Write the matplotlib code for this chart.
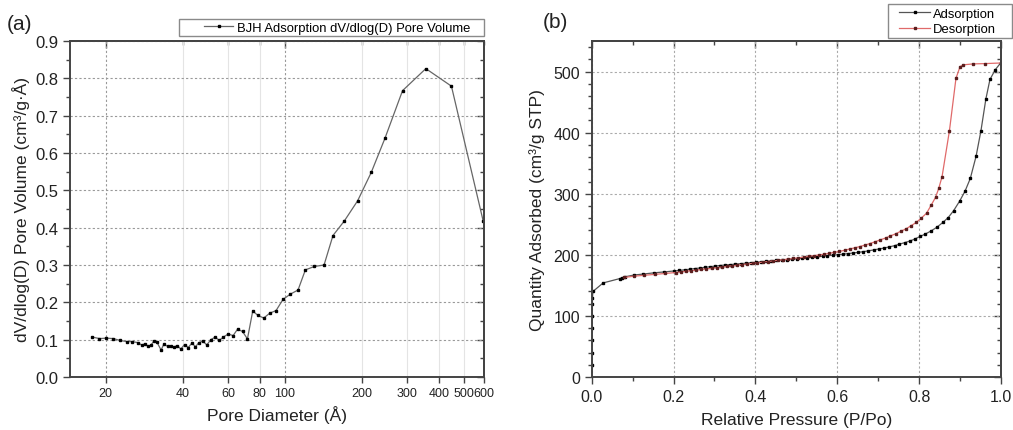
import matplotlib
matplotlib.use("Agg")
import matplotlib.pyplot as plt
from matplotlib.patches import Rectangle
from matplotlib.ticker import (FixedLocator, FixedFormatter, MultipleLocator,
                               NullFormatter, FormatStrFormatter)

plt.rcParams['font.family'] = ['Liberation Sans', 'DejaVu Sans']

# (a) BJH adsorption pore size distribution
pore_diameter = [17.7, 18.9, 20.1, 21.4, 22.7, 24.1, 25.3, 26.7, 27.7, 28.4,
                 29.3, 30.0, 30.8, 31.7, 32.9, 33.7, 34.9, 35.9, 36.9, 38.0,
                 39.3, 40.6, 42.0, 43.4, 44.8, 46.2, 47.9, 49.6, 51.5, 53.5,
                 55.5, 57.6, 60.1, 62.9, 65.4, 68.4, 71.5, 75.0, 78.5, 82.8,
                 87.4, 92.5, 98.5, 105.2, 112.7, 120.4, 130.5, 142.4, 154.3, 170.9,
                 192.6, 217.7, 246.1, 288.4, 355.6, 447.7, 595.0]
pore_volume = [0.107, 0.103, 0.104, 0.103, 0.098, 0.095, 0.095, 0.092, 0.085, 0.089,
               0.082, 0.085, 0.096, 0.093, 0.072, 0.088, 0.082, 0.082, 0.080, 0.084,
               0.075, 0.087, 0.079, 0.091, 0.081, 0.092, 0.096, 0.086, 0.100, 0.107,
               0.098, 0.107, 0.115, 0.111, 0.128, 0.122, 0.102, 0.177, 0.165, 0.158,
               0.171, 0.178, 0.208, 0.222, 0.233, 0.287, 0.296, 0.300, 0.379, 0.418,
               0.472, 0.548, 0.639, 0.767, 0.826, 0.779, 0.419]

# (b) N2 isotherm
ads_p = [0.0003, 0.0005, 0.0007, 0.0009, 0.0011, 0.0014, 0.0018, 0.003, 0.028, 0.068,
         0.073, 0.081, 0.104, 0.126, 0.152, 0.177, 0.200, 0.214, 0.228, 0.240,
         0.252, 0.265, 0.277, 0.289, 0.301, 0.313, 0.326, 0.339, 0.351, 0.364,
         0.376, 0.389, 0.401, 0.414, 0.426, 0.439, 0.451, 0.464, 0.476, 0.489,
         0.501, 0.514, 0.526, 0.539, 0.551, 0.564, 0.576, 0.589, 0.601, 0.614,
         0.626, 0.639, 0.651, 0.664, 0.676, 0.689, 0.701, 0.714, 0.727, 0.740,
         0.752, 0.765, 0.777, 0.790, 0.802, 0.815, 0.829, 0.843, 0.858, 0.871,
         0.884, 0.899, 0.912, 0.925, 0.939, 0.951, 0.963, 0.973, 0.986, 0.999]
ads_q = [20, 40, 60, 80, 100, 120, 130, 140, 154, 161,
         162, 164, 167, 168.5, 170.5, 172, 173.5, 174.5, 175.5, 176.5,
         177.5, 178.5, 179.5, 180.5, 181.5, 182.5, 183.3, 184, 184.8, 185.5,
         186.3, 187, 187.8, 188.5, 189.3, 190, 190.8, 191.5, 192.3, 193,
         193.8, 194.6, 195.4, 196.2, 197, 197.8, 198.6, 199.4, 200.2, 201,
         202, 203, 204, 205.2, 206.5, 208, 209.5, 211, 213, 215,
         217.5, 220, 222.5, 226, 230, 234, 239, 245, 253, 261,
         272, 288, 304, 325, 361, 403, 455, 487, 503, 514]

des_p = [0.999, 0.960, 0.932, 0.908, 0.900, 0.890, 0.874, 0.856, 0.848, 0.840,
         0.830, 0.818, 0.805, 0.793, 0.780, 0.768, 0.755, 0.743, 0.730, 0.718,
         0.705, 0.693, 0.680, 0.668, 0.655, 0.643, 0.630, 0.618, 0.605, 0.593,
         0.580, 0.568, 0.555, 0.543, 0.530, 0.518, 0.505, 0.493, 0.480, 0.468,
         0.455, 0.443, 0.430, 0.418, 0.405, 0.393, 0.380, 0.368, 0.355, 0.343,
         0.330, 0.318, 0.305, 0.293, 0.280, 0.268, 0.255, 0.243, 0.230, 0.218,
         0.205, 0.180, 0.155, 0.128, 0.103, 0.080]
des_q = [514, 513, 512.5, 511, 508, 489, 403, 328, 309, 294,
         282, 268, 260, 253, 247.5, 242.5, 238.5, 234.5, 231, 227.5,
         224.5, 221.5, 218.5, 216, 213.5, 211.5, 209.5, 207.5, 205.5, 204,
         202.5, 201, 199.8, 198.6, 197.4, 196.2, 195, 194, 193, 192,
         191, 190, 189, 188, 187, 186, 185, 184, 183, 182,
         181, 180, 179, 178, 177, 176, 175, 174, 173, 172,
         171, 169.5, 168, 166.5, 165, 163]

a_major = [20, 100]
a_minor = [40, 60, 80, 200, 300, 400, 500, 600]
a_yticks = [0.0, 0.1, 0.2, 0.3, 0.4, 0.5, 0.6, 0.7, 0.8, 0.9]

W, H = 1013, 431
fig = plt.figure(figsize=(W / 100, H / 100), dpi=100)
ax1 = fig.add_axes([70 / W, 53 / H, 414 / W, 336 / H])
ax2 = fig.add_axes([591.7 / W, 53 / H, 409.3 / W, 336 / H])

spine_c = '#444444'
text_c = '#222222'
leg_fs = 9.4
leg_px = leg_fs * 100 / 72


def fx(px):
    return px / W


def fy(py):
    return 1 - py / H


def style_axes(ax):
    for s in ax.spines.values():
        s.set_linewidth(1.4)
        s.set_color(spine_c)
    ax.tick_params(which='both', direction='out', colors=spine_c,
                   labelcolor=text_c, width=1.0, top=False, right=False)
    ax.tick_params(which='major', length=5)
    ax.tick_params(which='minor', length=3)
    ax.set_axisbelow(True)


def mirror_ticks(ax, xmaj, xmin, ymaj, ymin):
    top = ax.secondary_xaxis('top')
    top.xaxis.set_major_locator(xmaj)
    top.xaxis.set_minor_locator(xmin)
    top.xaxis.set_major_formatter(NullFormatter())
    top.xaxis.set_minor_formatter(NullFormatter())
    right = ax.secondary_yaxis('right')
    right.yaxis.set_major_locator(ymaj)
    right.yaxis.set_minor_locator(ymin)
    right.yaxis.set_major_formatter(NullFormatter())
    right.yaxis.set_minor_formatter(NullFormatter())
    for sec in (top, right):
        sec.tick_params(which='both', direction='in', colors=spine_c, width=1.0)
        sec.tick_params(which='major', length=5)
        sec.tick_params(which='minor', length=3)
        for s in sec.spines.values():
            s.set_linewidth(1.4)
            s.set_color(spine_c)


def legend_box(x0, y0, x1, y1):
    fig.patches.append(Rectangle((fx(x0), fy(y1)), fx(x1) - fx(x0), fy(y0) - fy(y1),
                                 transform=fig.transFigure, facecolor='white',
                                 edgecolor='#8a8a8a', lw=1.0, zorder=4))


# ---- (a) ----
ax1.plot(pore_diameter, pore_volume, '-', color='#666666', lw=0.9,
         marker='s', ms=2.1, mfc='black', mec='black',
         label='BJH Adsorption dV/dlog(D) Pore Volume')
ax1.set_xscale('log')
ax1.set_xlim(14.5, 600)
ax1.set_ylim(0, 0.9)
ax1.xaxis.set_major_locator(FixedLocator(a_major))
ax1.xaxis.set_major_formatter(FixedFormatter([str(v) for v in a_major]))
ax1.xaxis.set_minor_locator(FixedLocator(a_minor))
ax1.xaxis.set_minor_formatter(FixedFormatter([str(v) for v in a_minor]))
ax1.yaxis.set_major_locator(FixedLocator(a_yticks))
ax1.yaxis.set_major_formatter(FixedFormatter([f'{v:.1f}' for v in a_yticks]))
ax1.yaxis.set_minor_locator(MultipleLocator(0.05))
style_axes(ax1)
ax1.tick_params(axis='x', which='both', length=4, labelsize=9)
ax1.tick_params(axis='y', which='both', labelsize=12)
mirror_ticks(ax1, FixedLocator(a_major), FixedLocator(a_minor),
             FixedLocator(a_yticks), MultipleLocator(0.05))
ax1.grid(True, which='major', ls=(0, (2, 2)), color='#999999', lw=0.8)
ax1.grid(True, which='minor', axis='x', ls='-', color='#e4e4e4', lw=0.8)
ax1.set_xlabel('Pore Diameter (Å)', fontsize=12.5, color=text_c, labelpad=4)
ax1.set_ylabel('dV/dlog(D) Pore Volume (cm³/g·Å)', fontsize=12.5,
               color=text_c, labelpad=4)

legend_box(179, 20, 484, 37)
h1, l1 = ax1.get_legend_handles_labels()
fig.legend(h1, l1, loc='center left', bbox_to_anchor=(fx(204), fy(28.5)),
           bbox_transform=fig.transFigure, borderaxespad=0, borderpad=0,
           fontsize=leg_fs, frameon=False, handlelength=29 / leg_px,
           handletextpad=4 / leg_px)

# ---- (b) ----
ax2.plot(ads_p, ads_q, '-', color='#555555', lw=0.9,
         marker='s', ms=2.0, mfc='black', mec='black', label='Adsorption')
ax2.plot(des_p, des_q, '-', color='#e06a6a', lw=0.9,
         marker='s', ms=2.0, mfc='#5a1e1e', mec='#5a1e1e', label='Desorption')
ax2.set_xlim(0, 1.0)
ax2.set_ylim(0, 550)
ax2.xaxis.set_major_locator(MultipleLocator(0.2))
ax2.xaxis.set_minor_locator(MultipleLocator(0.1))
ax2.xaxis.set_major_formatter(FormatStrFormatter('%.1f'))
ax2.yaxis.set_major_locator(MultipleLocator(100))
ax2.yaxis.set_minor_locator(MultipleLocator(20))
style_axes(ax2)
ax2.tick_params(which='both', labelsize=11.5)
mirror_ticks(ax2, MultipleLocator(0.2), MultipleLocator(0.1),
             MultipleLocator(100), MultipleLocator(20))
ax2.grid(True, which='major', ls=(0, (2, 2)), color='#aaaaaa', lw=0.8)
ax2.set_xlabel('Relative Pressure (P/Po)', fontsize=12.5, color=text_c, labelpad=6)
ax2.set_ylabel('Quantity Adsorbed (cm³/g STP)', fontsize=12.5, color=text_c, labelpad=6)

legend_box(888, 5, 1012, 39)
h2, l2 = ax2.get_legend_handles_labels()
fig.legend(h2, l2, loc='center left', bbox_to_anchor=(fx(899), fy(22.5)),
           bbox_transform=fig.transFigure, borderaxespad=0, borderpad=0,
           fontsize=leg_fs, frameon=False, handlelength=31 / leg_px,
           handletextpad=3 / leg_px, labelspacing=0.25)

fig.text(fx(7), fy(30), '(a)', fontsize=15, color=text_c)
fig.text(fx(543), fy(28), '(b)', fontsize=15, color=text_c)

fig.savefig('out.png', dpi=100)
